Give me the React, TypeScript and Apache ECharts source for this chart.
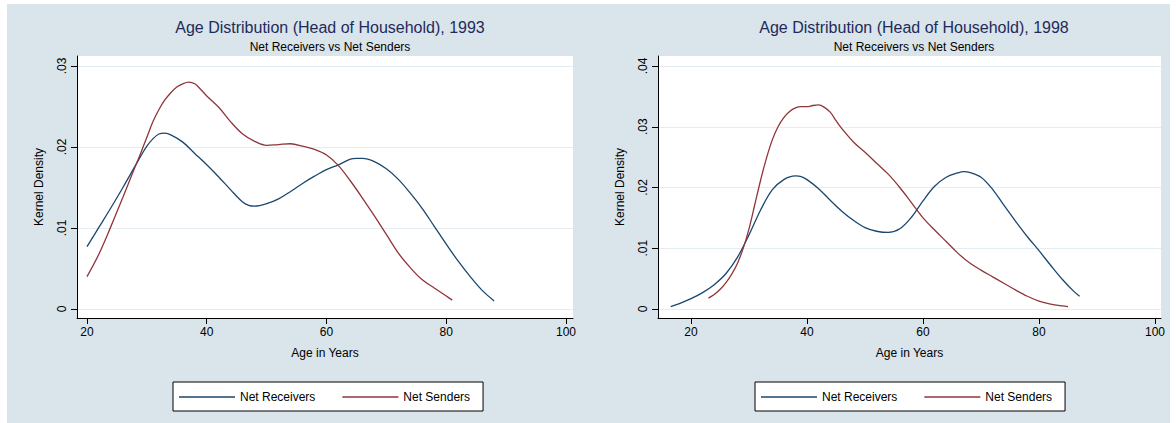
import React, { useEffect, useRef } from "react";
import * as echarts from "echarts";

// ---- data ----
const xTicks = [20, 40, 60, 80, 100];
const yTicks93 = [0, 0.01, 0.02, 0.03];
const yTicks98 = [0, 0.01, 0.02, 0.03, 0.04];
const seriesNames = ["Net Receivers", "Net Senders"];
const titles = [
  "Age Distribution (Head of Household), 1993",
  "Age Distribution (Head of Household), 1998",
];
const subtitle = "Net Receivers vs Net Senders";

const recv93Ages = [20, 22, 24, 26, 28, 29, 30, 31, 32, 33, 34, 36, 38, 40, 42, 44, 46, 47, 48, 50, 52, 54, 56, 58, 60, 62, 64, 65, 66, 68, 70, 72, 74, 76, 78, 80, 82, 84, 86, 88];
const recv93Vals = [0.0077, 0.0101, 0.0125, 0.015, 0.0176, 0.0189, 0.0201, 0.021, 0.0216, 0.0217, 0.0215, 0.0206, 0.0192, 0.0178, 0.0163, 0.0147, 0.0132, 0.0128, 0.0127, 0.013, 0.0136, 0.0145, 0.0155, 0.0164, 0.0172, 0.0178, 0.0185, 0.0186, 0.0186, 0.0182, 0.0173, 0.016, 0.0143, 0.0124, 0.0102, 0.008, 0.0059, 0.004, 0.0023, 0.001];

const send93Ages = [20, 22, 24, 26, 28, 29, 30, 31, 32, 33, 34, 35, 36, 37, 38, 39, 40, 42, 44, 46, 48, 50, 52, 54, 56, 58, 60, 62, 64, 66, 68, 70, 72, 74, 76, 78, 80, 81];
const send93Vals = [0.004, 0.0068, 0.0102, 0.0138, 0.0175, 0.0193, 0.0212, 0.0231, 0.0246, 0.0258, 0.0267, 0.0274, 0.0278, 0.028, 0.0278, 0.0271, 0.0263, 0.0249, 0.0231, 0.0216, 0.0207, 0.0202, 0.0203, 0.0204, 0.0201, 0.0197, 0.019, 0.0177, 0.0158, 0.0137, 0.0115, 0.0092, 0.0069, 0.0051, 0.0036, 0.0026, 0.0016, 0.0011];

const recv98Ages = [16.5, 18, 20, 22, 24, 26, 28, 30, 32, 34, 36, 38, 39, 40, 42, 44, 46, 48, 50, 52, 54, 56, 58, 60, 62, 64, 66, 67, 68, 70, 72, 74, 76, 78, 80, 82, 84, 86, 87];
const recv98Vals = [0.0004, 0.0009, 0.0017, 0.0027, 0.004, 0.0058, 0.0085, 0.0122, 0.0163, 0.0196, 0.0213, 0.0219, 0.0218, 0.0213, 0.0198, 0.0179, 0.0161, 0.0146, 0.0134, 0.0128, 0.0126, 0.0132, 0.0151, 0.0178, 0.0202, 0.0217, 0.0224, 0.0226, 0.0225, 0.0217, 0.0197, 0.017, 0.0144, 0.0119, 0.0096, 0.0072, 0.0049, 0.0029, 0.0021];

const send98Ages = [23, 24, 25, 26, 27, 28, 29, 30, 31, 32, 33, 34, 35, 36, 37, 38, 39, 40, 41, 42, 43, 44, 45, 46, 48, 50, 52, 54, 56, 58, 60, 62, 64, 66, 68, 70, 72, 74, 76, 78, 80, 82, 84, 85];
const send98Vals = [0.0018, 0.0024, 0.0032, 0.0043, 0.0057, 0.0075, 0.01, 0.0132, 0.0172, 0.0212, 0.0248, 0.0278, 0.03, 0.0315, 0.0325, 0.0331, 0.0333, 0.0333, 0.0335, 0.0336, 0.0332, 0.0324, 0.031, 0.0297, 0.0275, 0.0258, 0.024, 0.0222, 0.02, 0.0175, 0.015, 0.013, 0.0111, 0.0092, 0.0076, 0.0064, 0.0053, 0.0042, 0.0031, 0.0021, 0.0013, 0.0008, 0.0005, 0.0004];

const BLUE = "#1a476f";
const RED = "#90353b";
const BG = "#d9e4eb";
const GRID = "#e4edf1";
const FONT = "'Liberation Sans', Arial, sans-serif";

const zip = (a: number[], b: number[]) => a.map((x, i) => [x, b[i]]);

function xAxisCfg(gridIndex: number, min: number, max: number) {
  return {
    type: "value",
    gridIndex,
    min,
    max,
    name: "Age in Years",
    nameLocation: "middle",
    nameGap: 29,
    nameTextStyle: { color: "#000", fontSize: 12, fontFamily: FONT },
    axisLine: { show: true, onZero: false, lineStyle: { color: "#000", width: 1 } },
    axisTick: { show: true, length: 6, customValues: xTicks, lineStyle: { color: "#000" } },
    axisLabel: { customValues: xTicks, margin: 8, color: "#000", fontSize: 12, fontFamily: FONT },
    splitLine: { show: false },
  };
}

function yAxisCfg(gridIndex: number, min: number, max: number, ticks: number[]) {
  return {
    type: "value",
    gridIndex,
    min,
    max,
    name: "Kernel Density",
    nameLocation: "middle",
    nameGap: 32,
    nameRotate: 90,
    nameTextStyle: { color: "#000", fontSize: 12, fontFamily: FONT },
    axisLine: { show: true, onZero: false, lineStyle: { color: "#000", width: 1 } },
    axisTick: { show: true, length: 6, customValues: ticks, lineStyle: { color: "#000" } },
    axisLabel: {
      customValues: ticks,
      rotate: 90,
      margin: 9,
      color: "#000",
      fontSize: 12,
      fontFamily: FONT,
      formatter: (v: number) => (v === 0 ? "0" : String(+v.toFixed(4)).replace(/^0/, "")),
    },
    splitLine: { show: true, lineStyle: { color: GRID, width: 1 } },
  };
}

function lineSeries(name: string, color: string, idx: number, data: number[][]) {
  return {
    type: "line",
    name,
    xAxisIndex: idx,
    yAxisIndex: idx,
    data,
    symbol: "none",
    smooth: 0.35,
    lineStyle: { color, width: 1.3 },
    itemStyle: { color },
  };
}

function legendCfg(left: number) {
  return {
    data: seriesNames,
    left,
    top: 378,
    orient: "horizontal",
    icon: "rect",
    backgroundColor: "#fff",
    borderColor: "#000",
    borderWidth: 1,
    borderRadius: 0,
    padding: [8, 13, 7, 6],
    itemGap: 27,
    itemWidth: 56,
    itemHeight: 1.4,
    textStyle: { color: "#000", fontSize: 12, fontFamily: FONT, lineHeight: 14 },
    selectedMode: false,
  };
}

function titleCfg(text: string, left: number) {
  return {
    text,
    subtext: subtitle,
    left,
    top: 10,
    textAlign: "center",
    itemGap: 6,
    textStyle: { color: "#1e2b5b", fontSize: 16, fontWeight: "normal", fontFamily: FONT },
    subtextStyle: { color: "#000", fontSize: 12, fontFamily: FONT },
  };
}

export default function App() {
  const ref = useRef<HTMLDivElement>(null);
  useEffect(() => {
    if (!ref.current) return;
    const chart = echarts.init(ref.current, null, { renderer: "svg" });
    chart.setOption({
      animation: false,
      backgroundColor: BG,
      title: [titleCfg(titles[0], 318), titleCfg(titles[1], 902)],
      legend: [legendCfg(166), legendCfg(748)],
      grid: [
        { left: 70, top: 52, width: 496, height: 262, show: true, backgroundColor: "#fff", borderWidth: 0 },
        { left: 651, top: 52, width: 503, height: 262, show: true, backgroundColor: "#fff", borderWidth: 0 },
      ],
      xAxis: [xAxisCfg(0, 18.33, 101.17), xAxisCfg(1, 14.31, 101.03)],
      yAxis: [yAxisCfg(0, -0.00111, 0.03123, yTicks93), yAxisCfg(1, -0.00148, 0.04165, yTicks98)],
      series: [
        lineSeries(seriesNames[0], BLUE, 0, zip(recv93Ages, recv93Vals)),
        lineSeries(seriesNames[1], RED, 0, zip(send93Ages, send93Vals)),
        lineSeries(seriesNames[0], BLUE, 1, zip(recv98Ages, recv98Vals)),
        lineSeries(seriesNames[1], RED, 1, zip(send98Ages, send98Vals)),
      ],
    });
    return () => chart.dispose();
  }, []);
  return (
    <div style={{ position: "absolute", left: 0, top: 0, width: 1176, height: 423, background: "#fff" }}>
      <div ref={ref} style={{ position: "absolute", left: 7, top: 4, width: 1163, height: 419 }} />
    </div>
  );
}
